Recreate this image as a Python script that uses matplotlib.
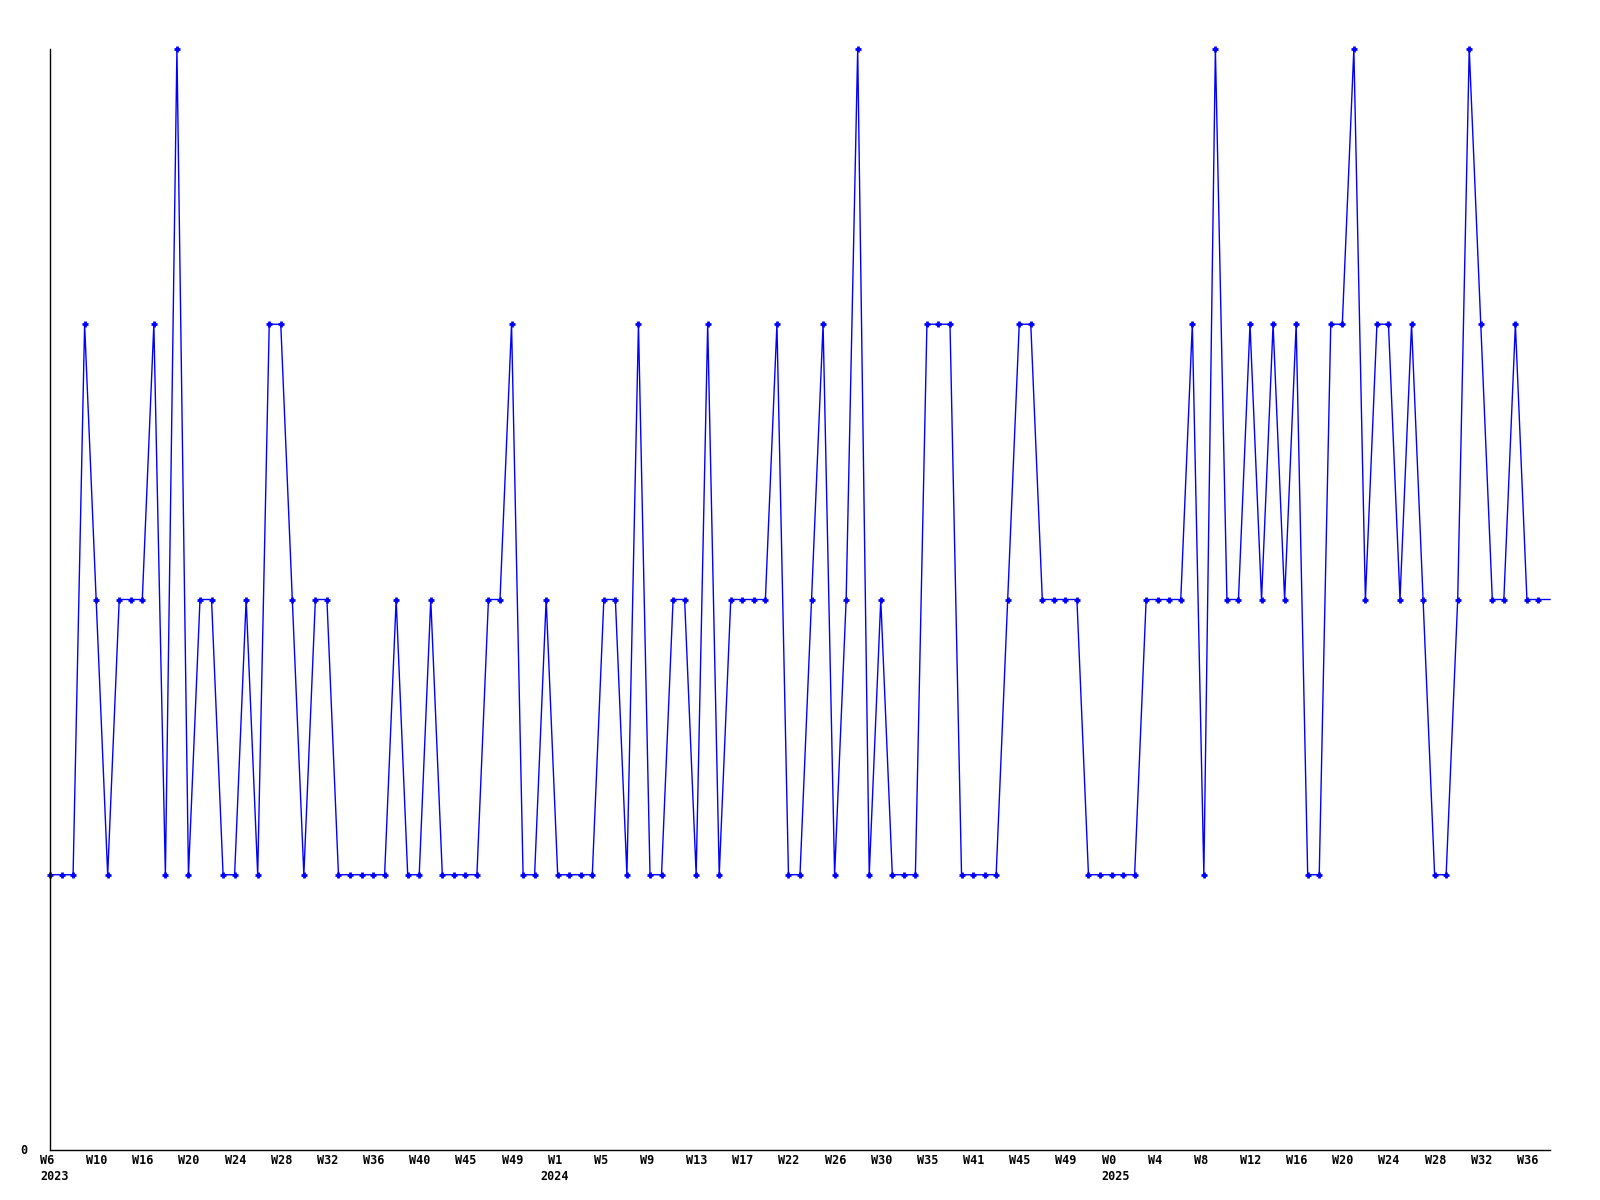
import matplotlib
matplotlib.use("Agg")
import matplotlib.pyplot as plt
import matplotlib.transforms as mtransforms

values = [1, 1, 1, 3, 2, 1, 2, 2, 2, 3, 1, 4, 1, 2, 2, 1, 1, 2, 1, 3,
          3, 2, 1, 2, 2, 1, 1, 1, 1, 1, 2, 1, 1, 2, 1, 1, 1, 1, 2, 2,
          3, 1, 1, 2, 1, 1, 1, 1, 2, 2, 1, 3, 1, 1, 2, 2, 1, 3, 1, 2,
          2, 2, 2, 3, 1, 1, 2, 3, 1, 2, 4, 1, 2, 1, 1, 1, 3, 3, 3, 1,
          1, 1, 1, 2, 3, 3, 2, 2, 2, 2, 1, 1, 1, 1, 1, 2, 2, 2, 2, 3,
          1, 4, 2, 2, 3, 2, 3, 2, 3, 1, 1, 3, 3, 4, 2, 3, 3, 2, 3, 2,
          1, 1, 2, 4, 3, 2, 2, 3, 2, 2, 2]

tick_labels = ["W6", "W10", "W16", "W20", "W24", "W28", "W32", "W36", "W40",
               "W45", "W49", "W1", "W5", "W9", "W13", "W17", "W22", "W26",
               "W30", "W35", "W41", "W45", "W49", "W0", "W4", "W8", "W12",
               "W16", "W20", "W24", "W28", "W32", "W36"]
tick_step = 4
year_labels = {0: "2023", 44: "2024", 92: "2025"}

fig = plt.figure(figsize=(16, 12), dpi=100)
ax = fig.add_axes([50 / 1600, 50 / 1200, 1500 / 1600, 1101 / 1200])

x = list(range(len(values)))
ax.plot(x, values, color="#0000ff", linewidth=1.0, marker="+",
        markersize=4.5, markeredgewidth=2.0, markevery=list(range(len(values) - 1)),
        clip_on=False)

ax.set_xlim(0, len(values) - 1)
ax.set_ylim(0, 4)

for s in ["top", "right"]:
    ax.spines[s].set_visible(False)
for s in ["left", "bottom"]:
    ax.spines[s].set_color("black")
    ax.spines[s].set_linewidth(1.0)

ax.set_xticks([])
ax.set_yticks([])

font = dict(family="DejaVu Sans Mono", fontweight="bold", fontsize=8.5, color="black")


def make_trans(px):
    off = mtransforms.ScaledTranslation(px / 100, 0, fig.dpi_scale_trans)
    return mtransforms.blended_transform_factory(ax.transData, ax.transAxes) + off


trans = make_trans(-10)
for i, lab in enumerate(tick_labels):
    xi = i * tick_step
    ax.text(xi, -11 / 1101, lab, transform=trans, ha="left", va="center", **font)
    if xi in year_labels:
        yoff = -17 if year_labels[xi] == "2024" else -10
        ax.text(xi, -27 / 1101, year_labels[xi], transform=make_trans(yoff),
                ha="left", va="center", **font)

ax.text(-30 / 1500, 0, "0", transform=ax.transAxes, ha="left", va="center",
        **font)

fig.savefig("out.png", dpi=100)
